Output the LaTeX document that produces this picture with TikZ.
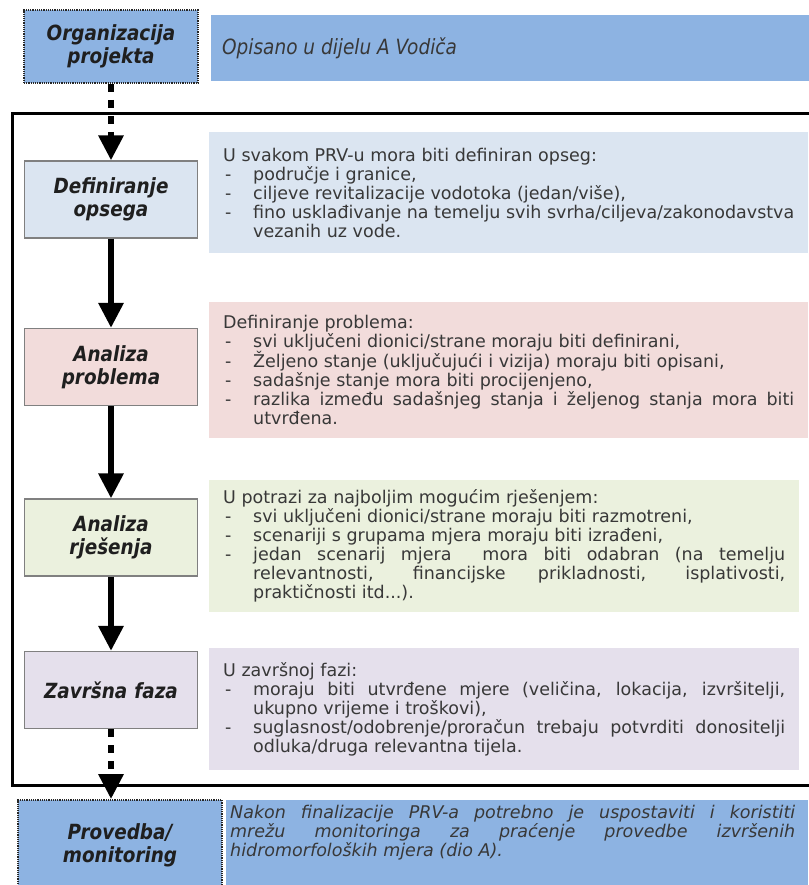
\documentclass[tikz,border=0pt]{standalone}
\usepackage{fontspec}
\setmainfont{DejaVu Sans}[FakeStretch=0.88]
\newfontfamily\opisfont{DejaVu Sans}
\usetikzlibrary{arrows.meta}
\definecolor{plava}{HTML}{8DB3E2}
\definecolor{svplava}{HTML}{DBE5F1}
\definecolor{roza}{HTML}{F2DCDB}
\definecolor{zelena}{HTML}{EBF1DE}
\definecolor{ljubicasta}{HTML}{E5E0EC}
\hyphenpenalty=10000
\exhyphenpenalty=10000
\hbadness=10000
\newcommand{\crtica}[1]{\par\hangindent=30pt\hangafter=1\noindent\makebox[30pt][l]{\hspace{2pt}-}#1}

\begin{document}
\begin{tikzpicture}[x=1pt,y=-1pt]
\tikzstyle{Faza}=[draw=black!50, line width=1.2pt, minimum width=173pt, minimum height=77pt, inner sep=3pt, text width=165pt, align=center, font=\fontsize{20.9}{23}\selectfont\bfseries\itshape, text=black!88];
\tikzstyle{Tocke}=[draw=black!85, densely dotted, line width=1.8pt, fill=plava];
\tikzstyle{Opis}=[anchor=west, inner xsep=14pt, inner ysep=0pt, font=\opisfont\fontsize{17.5}{19}\selectfont, text=black!78];
\tikzstyle{seq}=[line width=6pt, -{Triangle[length=25pt,width=24pt]}];
\tikzstyle{isprek}=[seq, dash pattern=on 8pt off 8pt];
\useasboundingbox (0,0) rectangle (808,885);
\draw [line width=3pt] (12,114) rectangle (840,785);
\node [Faza,Tocke,minimum width=174pt,minimum height=73pt] (v1) at (111,46.5) {Organizacija\\projekta};
\node [Opis,fill=plava,minimum height=66pt,inner xsep=11pt,font=\rmfamily\fontsize{21}{23}\selectfont] (t1) at (211,48) {\parbox{585pt}{\itshape Opisano u dijelu A Vodiča}};
\node [Faza,fill=svplava] (v2) at (111,199.5) {Definiranje\\opsega};
\node [Opis,fill=svplava,minimum height=120pt] (t2) at (209,192.5) {\parbox{571pt}{U svakom PRV-u mora biti definiran opseg:
\crtica{područje i granice,}
\crtica{ciljeve revitalizacije vodotoka (jedan/više),}
\crtica{fino usklađivanje na temelju svih svrha/ciljeva/zakonodavstva\linebreak vezanih uz vode.}}};
\node [Faza,fill=roza] (v3) at (111,367) {Analiza\\problema};
\node [Opis,fill=roza,minimum height=136pt] (t3) at (209,370) {\parbox{571pt}{Definiranje problema:
\crtica{svi uključeni dionici/strane moraju biti definirani,}
\crtica{Željeno stanje (uključujući i vizija) moraju biti opisani,}
\crtica{sadašnje stanje mora biti procijenjeno,}
\crtica{razlika između sadašnjeg stanja i željenog stanja mora biti\linebreak utvrđena.}}};
\node [Faza,fill=zelena] (v4) at (111,537.5) {Analiza\\rješenja};
\node [Opis,fill=zelena,minimum height=132pt] (t4) at (209,546) {\parbox{562pt}{U potrazi za najboljim mogućim rješenjem:
\crtica{svi uključeni dionici/strane moraju biti razmotreni,}
\crtica{scenariji s grupama mjera moraju biti izrađeni,}
\crtica{jedan scenarij mjera\ \ mora biti odabran (na temelju\linebreak relevantnosti, financijske prikladnosti, isplativosti,\linebreak praktičnosti itd...).}}};
\node [Faza,fill=ljubicasta] (v5) at (111,690) {Završna faza};
\node [Opis,fill=ljubicasta,minimum height=122pt] (t5) at (209,709) {\parbox{562pt}{U završnoj fazi:
\crtica{moraju biti utvrđene mjere (veličina, lokacija, izvršitelji,\linebreak ukupno vrijeme i troškovi),}
\crtica{suglasnost/odobrenje/proračun trebaju potvrditi donositelji\linebreak odluka/druga relevantna tijela.}}};
\node [Faza,Tocke,minimum width=204pt,minimum height=90pt] (v6) at (120,845) {Provedba/\\monitoring};
\node [Opis,anchor=north west,fill=plava,inner xsep=4pt,inner ysep=5pt] (t6) at (226,800) {\parbox[c][80pt][t]{565pt}{\itshape Nakon finalizacije PRV-a potrebno je uspostaviti i koristiti\linebreak mrežu monitoringa za praćenje provedbe izvršenih\linebreak hidromorfoloških mjera (dio A).}\hspace*{9pt}};
\draw [isprek] (v1) edge (v2);
\draw [seq] (v2) edge (v3);
\draw [seq] (v3) edge (v4);
\draw [seq] (v4) edge (v5);
\draw [isprek] (v5) edge (v5.south |- v6.north);
\end{tikzpicture}
\end{document}
